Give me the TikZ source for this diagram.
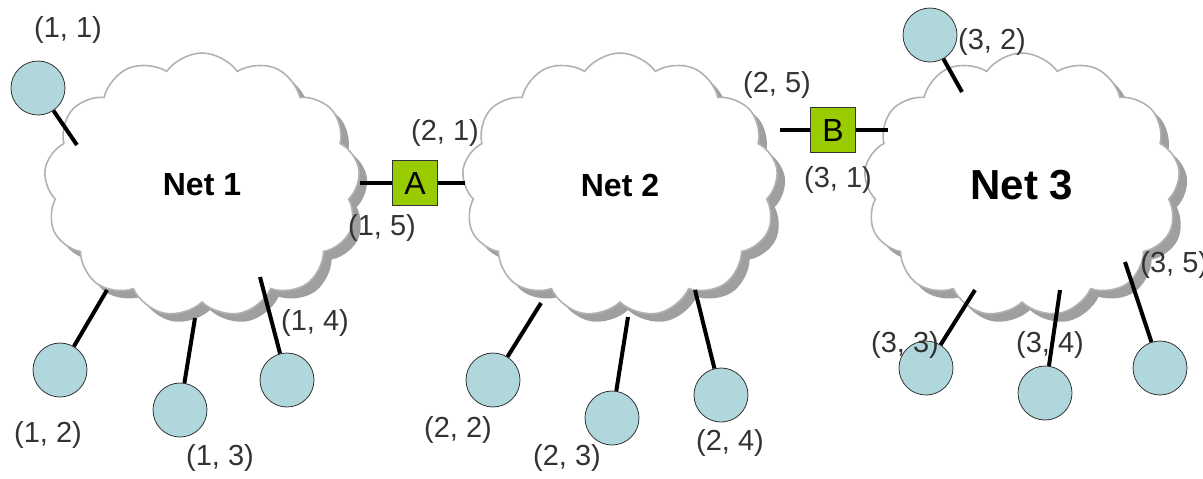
\documentclass[tikz,border=0pt]{standalone}
\usepackage{fontspec}
\setmainfont{Liberation Sans}
\usetikzlibrary{shapes.symbols}
\usetikzlibrary{shadows}

\definecolor{hostblue}{RGB}{176,216,220}
\definecolor{routergreen}{RGB}{153,204,0}

\tikzset{
  net/.style={cloud, cloud puffs=13, cloud puff arc=110, cloud ignores aspect,
    draw=gray!60, thick, fill=white, minimum width=158pt, minimum height=132pt,
    drop shadow={shadow xshift=4pt, shadow yshift=-4pt, fill=gray!75, opacity=1},
    font=\bfseries\fontsize{16}{18}\selectfont},
  host/.style={circle, draw=black!80, fill=hostblue, minimum size=27pt, inner sep=0pt},
  router/.style={rectangle, draw=black!80, fill=routergreen, minimum size=22.5pt,
    inner sep=0pt, font=\fontsize{16}{18}\selectfont},
  lbl/.style={font=\fontsize{14.5}{16}\selectfont, text=black!80, inner sep=0pt},
  link/.style={line width=2pt}
}

\begin{document}
\begin{tikzpicture}[x=0.5pt, y=-0.5pt]
    \useasboundingbox (0,0) rectangle (1203,478);

    % the three networks
    \node[net] (net1) at (202,185) {Net 1};
    \node[net] (net2) at (620,185) {Net 2};
    \node[net, font=\bfseries\fontsize{21}{24}\selectfont] (net3) at (1022,185) {Net 3};

    % hosts
    \foreach \n/\x/\y in {11/38/88, 12/60/370, 13/180/410, 14/287/380,
                          22/493/380, 23/612/418, 24/721/395,
                          32/930/35, 33/926/368, 34/1045/393, 35/1160/368}
        \node[host] (h\n) at (\x,\y) {};

    % where the links meet the clouds
    \coordinate (e11) at (77,145);
    \coordinate (e12) at (107,290);
    \coordinate (e13) at (195,318);
    \coordinate (e14) at (260,277);
    \coordinate (e15) at (360,183);
    \coordinate (e21) at (465,183);
    \coordinate (e22) at (541,303);
    \coordinate (e23) at (628,317);
    \coordinate (e24) at (695,290);
    \coordinate (e25) at (780,130);
    \coordinate (e31) at (888,130);
    \coordinate (e32) at (962,92);
    \coordinate (e33) at (975,290);
    \coordinate (e34) at (1060,290);
    \coordinate (e35) at (1125,262);

    % routers
    \node[router] (A) at (415,183) {A};
    \node[router] (B) at (833,130) {B};

    \foreach \n in {11,12,13,14,22,23,24,32,33,34,35}
        \draw[link] (h\n) -- (e\n);
    \draw[link] (e15) -- (A) -- (e21);
    \draw[link] (e25) -- (B) -- (e31);

    % interface labels
    \node[lbl] (l11) at (68,30) {(1, 1)};
    \node[lbl] (l12) at (48,435) {(1, 2)};
    \node[lbl] (l13) at (220,458) {(1, 3)};
    \node[lbl] (l14) at (315,323) {(1, 4)};
    \node[lbl] (l15) at (382,228) {(1, 5)};
    \node[lbl] (l21) at (445,133) {(2, 1)};
    \node[lbl] (l22) at (458,430) {(2, 2)};
    \node[lbl] (l23) at (567,458) {(2, 3)};
    \node[lbl] (l24) at (730,443) {(2, 4)};
    \node[lbl] (l25) at (777,85) {(2, 5)};
    \node[lbl] (l31) at (838,180) {(3, 1)};
    \node[lbl] (l32) at (992,42) {(3, 2)};
    \node[lbl] (l33) at (905,345) {(3, 3)};
    \node[lbl] (l34) at (1050,345) {(3, 4)};
    \node[lbl, anchor=west] (l35) at (1140,265) {(3, 5)};
\end{tikzpicture}
\end{document}
